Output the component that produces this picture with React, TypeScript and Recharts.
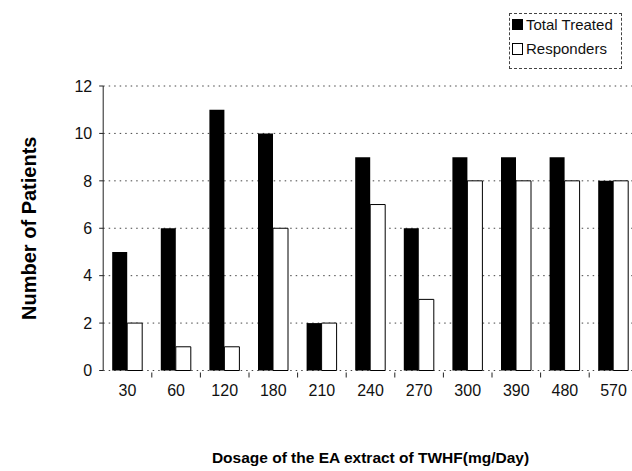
import React from 'react';
import { BarChart, Bar, XAxis, YAxis, CartesianGrid } from 'recharts';

const dosages = ['30', '60', '120', '180', '210', '240', '270', '300', '390', '480', '570'];
const totalTreated = [5, 6, 11, 10, 2, 9, 6, 9, 9, 9, 8];
const responders = [2, 1, 1, 6, 2, 7, 3, 8, 8, 8, 8];
const yTicks = [0, 2, 4, 6, 8, 10, 12];
const seriesNames = ['Total Treated', 'Responders'];

const data = dosages.map((d, i) => ({ dose: d, total: totalTreated[i], resp: responders[i] }));

const FONT = '"Liberation Sans", Arial, Helvetica, sans-serif';

const XTick = (props: any) => {
  const { x, y, payload } = props;
  const half = payload && payload.offset ? payload.offset : 24.3;
  const ay = y;
  return (
    <g>
      <line x1={x + half} x2={x + half} y1={ay} y2={ay + 5} stroke="#222" strokeWidth={1} />
      <text x={x} y={ay + 12} dy="0.71em" textAnchor="middle" fontSize={16} fontFamily={FONT} fill="#111">
        {payload.value}
      </text>
    </g>
  );
};

const LegendBox = () => (
  <div
    style={{
      position: 'absolute',
      left: 509,
      top: 13,
      width: 113,
      height: 56,
      border: '1px dashed #444',
      boxSizing: 'border-box',
      fontFamily: FONT,
      fontSize: 15,
      color: '#111',
      paddingLeft: 2,
      paddingTop: 0,
    }}
  >
    <div style={{ display: 'flex', alignItems: 'center', height: 21 }}>
      <span style={{ display: 'inline-block', width: 11, height: 11, background: '#000', marginRight: 3 }} />
      <span>{seriesNames[0]}</span>
    </div>
    <div style={{ display: 'flex', alignItems: 'center', height: 27 }}>
      <span style={{ display: 'inline-block', width: 9, height: 10, background: '#fff', border: '1px solid #000', marginRight: 3 }} />
      <span>{seriesNames[1]}</span>
    </div>
  </div>
);

export default function App() {
  const W = 650;
  return (
    <div style={{ position: 'absolute', left: 0, top: 0, width: 632, height: 471, overflow: 'hidden', background: '#fff' }}>
      <BarChart
        width={W}
        height={471}
        data={data}
        margin={{ top: 86, right: W - 637.8, left: 0, bottom: 0 }}
        barGap={0}
        barSize={15}
      >
        <CartesianGrid vertical={false} stroke="#444" strokeDasharray="1.5 4" />
        <XAxis
          dataKey="dose"
          axisLine={false}
          tickLine={false}
          tickSize={0}
          height={100.5}
          interval={0}
          tick={<XTick />}
          label={{
            value: 'Dosage of the EA extract of TWHF(mg/Day)',
            position: 'center',
            dy: 37,
            style: { fontFamily: FONT, fontSize: 15.5, fontWeight: 'bold', fill: '#000' },
          }}
        />
        <YAxis
          width={103.2}
          domain={[0, 12]}
          ticks={yTicks}
          interval={0}
          axisLine={{ stroke: '#222', strokeWidth: 1 }}
          tickLine={{ stroke: '#222' }}
          tickSize={4}
          tickMargin={7}
          tick={{ fontSize: 16, fontFamily: FONT, fill: '#111' }}
          label={{
            value: 'Number of Patients',
            angle: -90,
            position: 'center',
            dx: -22.6,
            style: { fontFamily: FONT, fontSize: 20, fontWeight: 'bold', fill: '#000', textAnchor: 'middle' },
          }}
        />
        <Bar dataKey="total" name={seriesNames[0]} fill="#000" isAnimationActive={false} />
        <Bar dataKey="resp" name={seriesNames[1]} fill="#fff" stroke="#000" strokeWidth={1} isAnimationActive={false} />
      </BarChart>
      <LegendBox />
    </div>
  );
}
